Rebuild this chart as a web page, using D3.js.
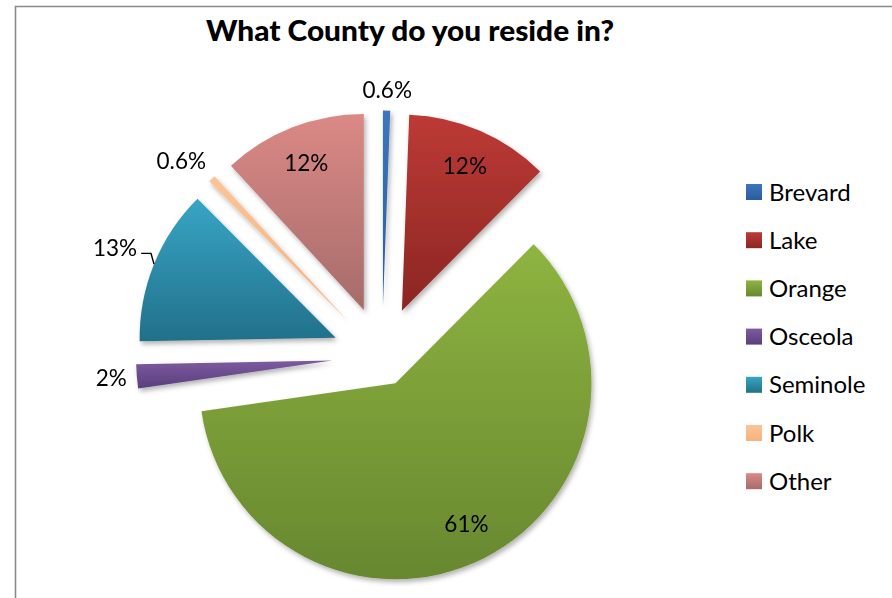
<!DOCTYPE html>
<html>
<head>
<meta charset="utf-8">
<script src="https://cdn.jsdelivr.net/npm/d3@7/dist/d3.min.js"></script>
<style>
  html, body { margin: 0; padding: 0; background: #fff; }
  svg { display: block; font-family: Lato, "Open Sans", sans-serif; }
</style>
</head>
<body>
<svg id="chart" width="892" height="598"></svg>
<script>
// Survey answers: county of residence (share of respondents)
const categories = ["Brevard", "Lake", "Orange", "Osceola", "Seminole", "Polk", "Other"];
const values = [0.6, 12, 61, 2, 13, 0.6, 12];
const valueLabels = ["0.6%", "12%", "61%", "2%", "13%", "0.6%", "12%"];
const title = "What County do you reside in?";

// Fill gradients (top -> bottom) for each county
const topColors = ["#3C76BE", "#BD3A35", "#8EB440", "#7D5BA0", "#37A5C5", "#FBC497", "#DB8986"];
const bottomColors = ["#2B5C9C", "#8B2623", "#67872F", "#5A3E7C", "#22708A", "#F6B27D", "#A66C6A"];

const width = 892, height = 598;
const cx = 382, cy = 356.5, radius = 196;
const explodeDefault = 50, explodeOrange = 30;
const insideLabelRadius = 158;

const svg = d3.select("#chart");
const defs = svg.append("defs");

// soft drop shadow under slices
const shadow = defs.append("filter").attr("id", "shadow")
  .attr("x", "-20%").attr("y", "-20%").attr("width", "140%").attr("height", "140%");
shadow.append("feDropShadow").attr("dx", 2).attr("dy", 3)
  .attr("stdDeviation", 2.5).attr("flood-color", "#000").attr("flood-opacity", 0.3);

categories.forEach((c, i) => {
  const g = defs.append("linearGradient").attr("id", "grad" + i)
    .attr("x1", 0).attr("y1", 0).attr("x2", 0).attr("y2", 1);
  g.append("stop").attr("offset", "0%").attr("stop-color", topColors[i]);
  g.append("stop").attr("offset", "100%").attr("stop-color", bottomColors[i]);
});

// chart frame
svg.append("path")
  .attr("d", `M15.5,${height} L15.5,6.5 L${width},6.5`)
  .attr("fill", "none").attr("stroke", "#8a8a8a").attr("stroke-width", 1.6);

// title
svg.append("text")
  .attr("x", 410).attr("y", 41)
  .attr("text-anchor", "middle")
  .attr("font-weight", 900).attr("font-size", 28)
  .attr("textLength", 408).attr("lengthAdjust", "spacingAndGlyphs")
  .attr("fill", "#000")
  .text(title);

const data = categories.map((c, i) => ({ name: c, value: values[i], label: valueLabels[i], i }));
const pie = d3.pie().sort(null).value(d => d.value);
const arcs = pie(data);
const arc = d3.arc().innerRadius(0).outerRadius(radius);

function midDir(a) {
  const m = (a.startAngle + a.endAngle) / 2;
  return [Math.sin(m), -Math.cos(m)];
}
function explodeOf(a) { return a.data.name === "Orange" ? explodeOrange : explodeDefault; }
function vertexOf(a) {
  const [dx, dy] = midDir(a);
  const e = explodeOf(a);
  return [cx + dx * e, cy + dy * e];
}

const slices = svg.append("g").attr("filter", "url(#shadow)");
slices.selectAll("path").data(arcs).join("path")
  .attr("transform", a => `translate(${vertexOf(a)})`)
  .attr("d", arc)
  .attr("fill", a => `url(#grad${a.data.i})`);

// value labels
const labelG = svg.append("g").attr("font-size", 22.5).attr("fill", "#000");
arcs.forEach(a => {
  const [vx, vy] = vertexOf(a);
  const [dx, dy] = midDir(a);
  const t = labelG.append("text").attr("text-anchor", "middle").attr("dy", "0.35em").text(a.data.label);
  const share = a.data.value / d3.sum(values);
  if (share > 0.05 && a.data.name !== "Seminole") {
    t.attr("x", vx + dx * insideLabelRadius).attr("y", vy + dy * insideLabelRadius);
  } else if (a.data.name === "Seminole") {
    // label pulled out with a leader line back to the arc
    const r = radius + 42;
    const lx = vx + dx * r, ly = vy + dy * r;
    t.attr("x", lx).attr("y", ly);
    const w = t.node().getComputedTextLength();
    const ax = vx + dx * radius, ay = vy + dy * radius;
    svg.append("polyline")
      .attr("points", [[lx + w / 2 + 4, ly + 5], [ax - 3, ly + 5], [ax, ay]].map(p => p.join(",")).join(" "))
      .attr("fill", "none").attr("stroke", "#000").attr("stroke-width", 1.4);
  } else {
    const w = t.node().getComputedTextLength();
    const h = 20;
    const r = radius + 10;
    const px = vx + dx * r, py = vy + dy * r;
    const m = Math.max(Math.abs(dx), Math.abs(dy));
    t.attr("x", px + dx / m * w / 2).attr("y", py + dy / m * h / 2);
  }
});

// legend
const legend = svg.append("g").attr("transform", "translate(746,192)");
const rowH = 48.2;
const rows = legend.selectAll("g").data(categories).join("g")
  .attr("transform", (d, i) => `translate(0,${i * rowH})`);
rows.append("rect").attr("x", 0).attr("y", -8).attr("width", 16).attr("height", 16)
  .attr("fill", (d, i) => `url(#grad${i})`);
rows.append("text").attr("x", 23).attr("y", 0).attr("dy", "0.36em")
  .attr("font-size", 24).attr("fill", "#000").text(d => d);
</script>
</body>
</html>
